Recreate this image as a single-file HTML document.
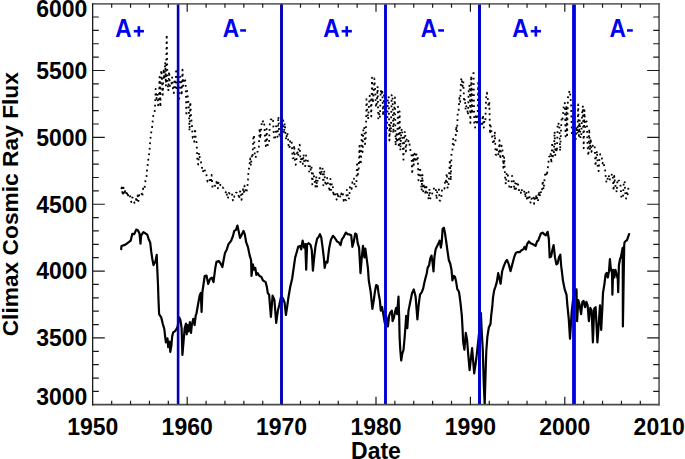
<!DOCTYPE html><html><head><meta charset="utf-8"><style>
html,body{margin:0;padding:0;background:#fff;}
body{width:685px;height:459px;overflow:hidden;position:relative;font-family:"Liberation Sans", sans-serif;}
svg{position:absolute;left:0;top:0;}
</style></head><body>
<svg width="685" height="459" viewBox="0 0 685 459">
<rect x="0" y="0" width="685" height="459" fill="#fff"/>
<path d="M121.1 189.0 L121.9 187.5 L122.7 195.6 L123.5 187.6 L124.2 194.6 L125.0 191.5 L125.8 189.4 L126.6 195.9 L127.4 191.6 L128.2 196.1 L129.0 194.2 L129.8 195.1 L130.5 198.1 L131.3 202.1 L132.1 197.4 L132.9 197.9 L133.7 201.2 L134.5 202.9 L135.3 200.9 L136.0 198.9 L136.8 202.6 L137.6 195.4 L138.4 201.2 L139.2 195.4 L140.0 193.7 L140.8 192.3 L141.6 192.4 L142.3 196.8 L143.1 188.5 L143.9 190.0 L144.7 187.2 L145.5 180.5 L146.3 179.0 L147.1 169.3 L147.8 164.1 L148.6 156.7 L149.4 152.5 L150.2 141.2 L151.0 133.5 L151.8 130.1 L152.6 121.9 L153.4 114.6 L154.1 114.4 L154.9 109.9 L155.7 88.9 L156.5 98.9 L157.3 93.8 L158.1 105.3 L158.9 100.4 L159.6 76.8 L160.4 107.2 L161.2 70.0 L162.0 79.8 L162.8 94.8 L163.6 68.7 L164.4 79.5 L165.2 62.1 L165.9 86.2 L166.7 34.5 L167.5 81.9 L168.3 90.9 L169.1 71.4 L169.9 87.0 L170.7 84.2 L171.4 83.8 L172.2 77.5 L173.0 90.4 L173.8 93.1 L174.6 79.0 L175.4 87.6 L176.2 68.7 L177.0 91.1 L177.7 91.1 L178.5 101.1 L179.3 97.7 L180.1 76.7 L180.9 80.4 L181.7 95.5 L182.5 69.7 L183.2 85.9 L184.0 78.0 L184.8 79.7 L185.6 81.5 L186.4 116.0 L187.2 91.0 L188.0 98.5 L188.8 106.6 L189.5 130.9 L190.3 101.8 L191.1 116.7 L191.9 125.6 L192.7 137.8 L193.5 137.6 L194.3 141.8 L195.0 128.5 L195.8 139.6 L196.6 142.8 L197.4 160.9 L198.2 164.5 L199.0 152.8 L199.8 157.9 L200.6 161.3 L201.3 163.2 L202.1 168.3 L202.9 172.2 L203.7 169.2 L204.5 168.3 L205.3 172.8 L206.1 173.0 L206.8 177.1 L207.6 181.5 L208.4 180.1 L209.2 178.7 L210.0 181.1 L210.8 182.6 L211.6 175.0 L212.4 186.6 L213.1 186.3 L213.9 187.9 L214.7 187.8 L215.5 181.9 L216.3 182.6 L217.1 179.9 L217.9 188.4 L218.6 181.3 L219.4 182.6 L220.2 184.9 L221.0 185.7 L221.8 188.2 L222.6 187.4 L223.4 188.1 L224.2 189.6 L224.9 189.9 L225.7 192.4 L226.5 190.8 L227.3 198.7 L228.1 197.5 L228.9 192.9 L229.7 193.8 L230.4 194.7 L231.2 195.0 L232.0 193.4 L232.8 200.2 L233.6 201.0 L234.4 196.1 L235.2 196.2 L236.0 192.7 L236.7 192.7 L237.5 194.2 L238.3 193.4 L239.1 199.1 L239.9 192.0 L240.7 190.6 L241.5 199.9 L242.2 195.4 L243.0 189.2 L243.8 193.6 L244.6 185.6 L245.4 190.5 L246.2 193.0 L247.0 189.2 L247.8 183.2 L248.5 170.7 L249.3 167.1 L250.1 158.4 L250.9 165.8 L251.7 156.2 L252.5 158.3 L253.3 138.7 L254.0 134.9 L254.8 154.6 L255.6 157.8 L256.4 154.0 L257.2 152.0 L258.0 151.5 L258.8 148.4 L259.6 128.0 L260.3 138.7 L261.1 129.9 L261.9 121.0 L262.7 120.2 L263.5 125.4 L264.3 124.4 L265.1 140.3 L265.8 146.1 L266.6 128.8 L267.4 144.7 L268.2 145.3 L269.0 144.2 L269.8 124.0 L270.6 119.7 L271.4 119.4 L272.1 118.2 L272.9 117.9 L273.7 133.4 L274.5 140.0 L275.3 138.5 L276.1 126.2 L276.9 133.5 L277.6 136.8 L278.4 116.3 L279.2 133.2 L280.0 138.0 L280.8 135.4 L281.6 134.6 L282.4 126.7 L283.2 120.5 L283.9 133.6 L284.7 123.1 L285.5 134.8 L286.3 139.9 L287.1 132.4 L287.9 135.6 L288.7 148.5 L289.4 148.2 L290.2 139.5 L291.0 140.8 L291.8 143.0 L292.6 158.3 L293.4 158.2 L294.2 145.2 L295.0 161.1 L295.7 164.8 L296.5 159.5 L297.3 150.3 L298.1 156.4 L298.9 146.4 L299.7 144.7 L300.5 163.3 L301.2 158.8 L302.0 156.4 L302.8 164.0 L303.6 154.1 L304.4 164.7 L305.2 166.1 L306.0 155.3 L306.8 157.9 L307.5 160.5 L308.3 161.5 L309.1 171.7 L309.9 165.1 L310.7 169.9 L311.5 166.4 L312.3 184.4 L313.0 172.3 L313.8 175.4 L314.6 180.5 L315.4 186.7 L316.2 176.3 L317.0 187.3 L317.8 178.7 L318.6 179.8 L319.3 179.4 L320.1 167.8 L320.9 175.6 L321.7 170.4 L322.5 167.6 L323.3 185.3 L324.1 170.3 L324.8 177.9 L325.6 185.9 L326.4 183.4 L327.2 178.0 L328.0 184.4 L328.8 186.5 L329.6 191.8 L330.4 178.9 L331.1 189.9 L331.9 183.1 L332.7 184.6 L333.5 196.2 L334.3 191.7 L335.1 193.9 L335.9 197.6 L336.6 199.6 L337.4 192.0 L338.2 196.3 L339.0 194.4 L339.8 194.9 L340.6 198.0 L341.4 193.4 L342.2 195.8 L342.9 194.1 L343.7 200.8 L344.5 198.2 L345.3 199.8 L346.1 200.2 L346.9 189.9 L347.7 195.2 L348.4 199.5 L349.2 197.9 L350.0 186.7 L350.8 186.0 L351.6 188.9 L352.4 182.2 L353.2 182.6 L354.0 178.6 L354.7 187.7 L355.5 186.8 L356.3 186.1 L357.1 161.7 L357.9 174.6 L358.7 168.5 L359.5 145.9 L360.2 164.7 L361.0 161.8 L361.8 132.2 L362.6 152.0 L363.4 127.2 L364.2 126.7 L365.0 144.1 L365.8 136.2 L366.5 99.2 L367.3 111.2 L368.1 119.3 L368.9 105.6 L369.7 95.6 L370.5 96.5 L371.3 116.4 L372.0 77.6 L372.8 103.1 L373.6 93.4 L374.4 78.5 L375.2 90.3 L376.0 107.3 L376.8 102.5 L377.6 86.3 L378.3 118.4 L379.1 113.6 L379.9 118.1 L380.7 90.1 L381.5 94.7 L382.3 89.6 L383.1 115.7 L383.8 96.7 L384.6 92.8 L385.4 105.0 L386.2 133.6 L387.0 131.9 L387.8 100.0 L388.6 96.2 L389.4 140.5 L390.1 124.5 L390.9 132.5 L391.7 95.1 L392.5 94.4 L393.3 133.4 L394.1 113.4 L394.9 97.3 L395.6 145.8 L396.4 134.1 L397.2 142.9 L398.0 106.7 L398.8 147.6 L399.6 111.3 L400.4 150.6 L401.2 131.5 L401.9 128.4 L402.7 144.1 L403.5 159.7 L404.3 133.1 L405.1 131.3 L405.9 151.5 L406.7 139.7 L407.4 138.1 L408.2 141.4 L409.0 140.2 L409.8 146.3 L410.6 151.3 L411.4 152.5 L412.2 174.2 L413.0 155.0 L413.7 165.4 L414.5 153.7 L415.3 159.8 L416.1 151.9 L416.9 159.7 L417.7 156.1 L418.5 180.4 L419.2 176.5 L420.0 167.1 L420.8 177.0 L421.6 190.7 L422.4 174.1 L423.2 191.4 L424.0 183.7 L424.8 187.2 L425.5 194.9 L426.3 186.8 L427.1 190.9 L427.9 195.4 L428.7 199.5 L429.5 188.7 L430.3 198.5 L431.0 197.3 L431.8 196.6 L432.6 191.3 L433.4 190.7 L434.2 187.3 L435.0 188.6 L435.8 188.3 L436.6 199.4 L437.3 190.5 L438.1 189.4 L438.9 188.5 L439.7 200.6 L440.5 200.7 L441.3 197.7 L442.1 189.0 L442.8 187.8 L443.6 187.8 L444.4 188.7 L445.2 179.4 L446.0 181.1 L446.8 173.2 L447.6 188.5 L448.4 186.7 L449.1 174.1 L449.9 159.6 L450.7 180.7 L451.5 154.5 L452.3 152.0 L453.1 138.9 L453.9 145.0 L454.6 144.8 L455.4 142.5 L456.2 125.9 L457.0 132.2 L457.8 110.7 L458.6 110.4 L459.4 97.9 L460.2 101.9 L460.9 80.9 L461.7 77.7 L462.5 86.3 L463.3 81.3 L464.1 102.0 L464.9 98.6 L465.7 110.1 L466.4 106.2 L467.2 108.9 L468.0 115.1 L468.8 88.4 L469.6 84.9 L470.4 122.9 L471.2 75.8 L472.0 113.9 L472.7 110.6 L473.5 70.4 L474.3 123.5 L475.1 127.7 L475.9 114.0 L476.7 121.0 L477.5 125.0 L478.2 82.8 L479.0 109.1 L479.8 108.1 L480.6 125.4 L481.4 124.3 L482.2 125.1 L483.0 114.8 L483.8 127.6 L484.5 120.2 L485.3 121.5 L486.1 97.6 L486.9 92.7 L487.7 97.3 L488.5 107.3 L489.3 101.2 L490.0 134.1 L490.8 126.1 L491.6 133.3 L492.4 137.9 L493.2 144.3 L494.0 141.5 L494.8 131.5 L495.6 154.4 L496.3 154.9 L497.1 149.4 L497.9 151.6 L498.7 155.7 L499.5 140.2 L500.3 159.3 L501.1 146.9 L501.8 145.6 L502.6 151.2 L503.4 167.8 L504.2 156.7 L505.0 175.7 L505.8 184.1 L506.6 174.2 L507.4 172.2 L508.1 176.8 L508.9 185.1 L509.7 188.2 L510.5 186.1 L511.3 187.1 L512.1 175.9 L512.9 178.0 L513.6 180.5 L514.4 190.4 L515.2 183.2 L516.0 188.9 L516.8 181.6 L517.6 182.8 L518.4 185.6 L519.2 192.6 L519.9 193.4 L520.7 193.7 L521.5 188.7 L522.3 192.6 L523.1 191.9 L523.9 192.5 L524.7 190.2 L525.4 198.0 L526.2 191.9 L527.0 200.1 L527.8 200.6 L528.6 192.0 L529.4 196.6 L530.2 201.9 L531.0 203.3 L531.7 197.6 L532.5 196.1 L533.3 196.0 L534.1 203.8 L534.9 195.8 L535.7 200.0 L536.5 194.5 L537.2 198.4 L538.0 201.8 L538.8 191.1 L539.6 196.8 L540.4 191.0 L541.2 193.4 L542.0 189.4 L542.8 180.5 L543.5 189.7 L544.3 181.9 L545.1 173.7 L545.9 171.8 L546.7 176.1 L547.5 170.8 L548.3 163.7 L549.0 156.8 L549.8 156.2 L550.6 152.7 L551.4 163.3 L552.2 142.2 L553.0 156.5 L553.8 156.3 L554.6 131.5 L555.3 155.1 L556.1 147.4 L556.9 152.2 L557.7 122.7 L558.5 123.9 L559.3 123.1 L560.1 151.1 L560.8 134.7 L561.6 118.3 L562.4 120.4 L563.2 112.5 L564.0 103.1 L564.8 103.0 L565.6 136.4 L566.4 105.4 L567.1 135.2 L567.9 97.9 L568.7 95.5 L569.5 90.5 L570.3 95.1 L571.1 104.6 L571.9 134.5 L572.6 133.3 L573.4 132.1 L574.2 126.8 L575.0 137.3 L575.8 139.1 L576.6 126.4 L577.4 134.0 L578.2 104.4 L578.9 135.9 L579.7 119.6 L580.5 138.3 L581.3 134.7 L582.1 113.6 L582.9 105.7 L583.7 148.3 L584.4 110.2 L585.2 127.2 L586.0 121.8 L586.8 121.4 L587.6 146.9 L588.4 156.0 L589.2 128.8 L590.0 150.1 L590.7 138.3 L591.5 151.9 L592.3 147.6 L593.1 144.0 L593.9 145.0 L594.7 147.1 L595.5 166.2 L596.2 157.0 L597.0 150.8 L597.8 168.8 L598.6 171.1 L599.4 159.1 L600.2 154.1 L601.0 157.0 L601.8 157.4 L602.5 163.5 L603.3 161.4 L604.1 165.6 L604.9 167.9 L605.7 176.6 L606.5 182.7 L607.3 181.8 L608.0 174.9 L608.8 176.0 L609.6 180.5 L610.4 177.1 L611.2 177.0 L612.0 173.5 L612.8 177.0 L613.6 190.9 L614.3 175.8 L615.1 183.9 L615.9 187.8 L616.7 192.3 L617.5 179.1 L618.3 180.6 L619.1 180.7 L619.8 184.1 L620.6 185.9 L621.4 197.7 L622.2 196.6 L623.0 197.5 L623.8 180.9 L624.6 181.6 L625.4 196.1 L626.1 198.6 L626.9 191.0 L627.7 194.3 L628.5 187.0" fill="none" stroke="#000" stroke-width="1.8" stroke-dasharray="1.8 3.7" stroke-linejoin="round"/>
<path d="M121.2 249.2 L121.5 246.0 L125.5 244.6 L130.7 240.7 L132.3 233.8 L134.3 234.2 L136.2 229.6 L137.9 230.2 L139.5 233.5 L140.5 243.6 L141.1 235.5 L143.4 232.2 L145.3 233.3 L147.3 234.7 L148.8 239.6 L150.2 242.5 L151.2 251.4 L152.2 258.2 L153.5 265.1 L155.5 261.2 L156.7 254.9 L157.1 265.1 L158.0 284.7 L158.5 300.0 L159.1 314.1 L161.2 317.3 L162.7 323.5 L164.3 329.0 L165.1 336.1 L165.9 342.4 L167.5 338.4 L168.2 347.1 L169.5 341.6 L170.3 351.8 L171.4 345.5 L172.2 336.1 L173.3 332.2 L174.8 331.4 L176.1 329.8 L177.6 326.7 L179.2 317.3 L180.5 320.4 L181.6 328.2 L182.4 354.9 L183.6 340.8 L184.7 328.2 L186.0 323.5 L186.7 334.5 L187.5 325.1 L188.6 331.4 L189.9 322.0 L191.0 333.0 L191.8 325.1 L193.3 318.8 L194.6 325.1 L195.7 315.7 L196.5 313.3 L198.0 304.7 L199.6 296.0 L200.8 293.0 L201.6 312.0 L202.4 292.0 L204.7 276.0 L206.5 275.5 L208.2 284.0 L210.0 279.0 L211.8 277.6 L213.5 282.1 L215.3 267.9 L216.5 261.8 L218.8 260.9 L220.6 263.5 L222.4 267.1 L223.6 260.0 L225.0 252.9 L226.8 249.4 L228.5 244.1 L231.2 240.6 L232.9 236.2 L234.2 230.9 L235.9 230.0 L237.4 225.6 L238.6 230.9 L240.0 237.9 L241.8 234.4 L243.5 230.9 L244.8 234.4 L246.2 242.4 L247.9 246.8 L249.7 255.6 L251.1 260.0 L251.5 275.9 L252.9 264.4 L254.1 269.7 L255.3 267.9 L256.4 275.0 L257.6 273.2 L259.4 275.9 L261.2 276.8 L262.9 280.3 L265.6 282.1 L267.0 287.6 L267.7 292.9 L269.1 294.7 L270.9 316.8 L272.6 295.6 L274.4 300.0 L276.2 322.9 L277.9 310.6 L279.4 304.4 L281.1 296.5 L282.9 298.2 L284.6 302.6 L285.9 315.0 L287.1 307.1 L288.5 297.0 L290.3 286.5 L292.1 279.0 L293.8 267.0 L295.2 257.4 L297.0 251.2 L298.2 246.8 L300.0 245.9 L301.2 249.4 L302.6 240.6 L304.1 247.6 L305.3 244.1 L306.2 269.7 L307.1 244.1 L308.8 243.2 L310.6 245.0 L311.8 250.3 L312.9 270.6 L314.1 258.2 L315.4 246.8 L317.1 238.8 L318.5 237.1 L319.9 234.1 L321.2 237.1 L322.4 245.9 L323.8 257.4 L324.7 267.9 L325.9 261.8 L327.4 262.6 L329.1 248.5 L330.9 239.7 L333.0 235.8 L334.8 237.9 L337.1 241.5 L338.8 242.4 L340.6 245.0 L341.8 239.7 L343.6 237.1 L345.9 232.6 L347.6 234.1 L349.4 234.4 L351.2 235.3 L352.4 246.8 L353.8 241.5 L355.2 233.5 L356.5 234.4 L357.7 243.2 L359.1 247.6 L360.5 273.2 L361.8 257.4 L363.0 245.9 L364.4 257.4 L365.3 248.5 L366.5 257.4 L367.9 267.9 L368.8 280.6 L370.6 291.2 L371.5 300.0 L372.4 308.8 L373.8 300.0 L375.0 291.2 L376.2 285.0 L377.6 285.9 L378.5 292.9 L379.8 300.0 L380.8 310.6 L382.1 307.1 L383.3 314.1 L384.7 322.9 L386.1 315.9 L387.9 326.5 L389.1 315.9 L390.4 312.4 L391.8 310.6 L392.6 321.2 L393.9 317.6 L394.9 312.4 L396.2 307.9 L397.1 314.1 L398.5 296.5 L399.2 317.6 L399.6 337.0 L400.3 350.0 L401.2 360.5 L402.2 354.0 L403.5 350.0 L404.6 338.0 L405.5 326.0 L406.2 315.9 L407.3 328.2 L408.5 310.6 L410.3 301.8 L412.1 292.9 L413.8 289.4 L415.6 296.5 L417.4 319.4 L418.6 305.3 L420.0 294.7 L421.8 292.1 L423.2 288.4 L424.4 282.4 L425.5 278.0 L426.8 273.2 L427.6 267.9 L429.1 265.3 L430.3 258.2 L431.5 255.6 L432.6 262.6 L433.5 271.5 L434.4 257.4 L435.6 249.4 L436.8 246.8 L438.2 244.1 L439.6 240.6 L440.9 247.6 L441.8 241.5 L442.6 229.1 L443.9 227.7 L444.9 232.6 L446.2 241.5 L447.4 250.3 L448.8 260.0 L450.2 263.5 L451.5 269.7 L452.4 280.3 L453.8 275.9 L455.0 276.8 L456.2 282.1 L457.3 289.1 L458.5 290.9 L459.1 292.4 L460.5 302.9 L461.8 315.3 L462.6 329.4 L463.1 341.5 L464.4 349.7 L465.8 332.9 L467.1 340.0 L467.9 350.6 L469.6 370.1 L472.1 348.1 L474.2 373.4 L476.2 359.5 L477.8 345.0 L479.4 330.0 L480.9 313.0 L481.8 333.0 L482.8 350.0 L483.8 385.0 L484.7 404.0 L485.6 372.0 L486.3 351.0 L487.4 336.5 L488.8 327.6 L490.5 324.1 L491.2 315.3 L492.3 306.5 L493.0 297.6 L494.1 290.6 L495.3 287.1 L496.8 282.1 L498.2 273.2 L499.4 278.5 L500.6 283.8 L502.1 271.5 L503.8 266.2 L505.6 261.8 L507.0 260.0 L508.8 264.4 L510.5 271.1 L512.3 264.4 L514.1 257.4 L515.8 252.9 L517.6 252.1 L519.7 252.1 L521.5 250.3 L523.2 249.4 L524.6 246.8 L525.9 249.4 L527.1 244.1 L528.9 241.5 L530.6 243.2 L532.4 244.1 L534.2 245.0 L535.6 245.9 L537.0 241.5 L538.2 240.6 L539.5 237.1 L540.9 233.5 L542.6 232.6 L544.4 234.4 L545.8 235.3 L547.6 231.8 L548.8 238.8 L549.7 257.4 L551.1 256.5 L552.3 250.3 L553.6 245.0 L555.0 257.4 L556.4 264.4 L557.6 263.5 L558.9 257.4 L560.3 254.7 L561.2 266.2 L562.1 273.2 L562.9 280.3 L564.7 289.4 L566.5 294.7 L567.4 305.3 L568.8 319.4 L570.0 338.8 L571.8 310.6 L573.0 300.0 L574.5 295.0 L576.5 289.4 L577.1 321.2 L578.3 300.0 L579.7 305.3 L581.1 314.1 L582.4 301.8 L583.6 300.9 L585.0 307.1 L586.4 301.8 L587.6 305.3 L588.9 321.2 L590.3 307.9 L591.7 310.6 L592.9 342.4 L594.2 308.8 L595.6 307.1 L597.4 342.4 L598.8 322.9 L600.0 305.3 L601.2 330.0 L602.3 308.8 L603.0 292.9 L604.4 284.1 L605.6 274.5 L606.7 273.0 L607.8 277.5 L609.0 271.4 L609.9 259.2 L610.8 268.4 L612.0 273.0 L612.4 294.7 L613.2 269.9 L614.3 277.5 L615.4 269.9 L616.6 274.5 L617.8 279.1 L618.2 292.1 L618.9 265.3 L620.0 259.2 L620.9 257.0 L621.9 251.6 L622.7 247.8 L622.9 326.5 L624.2 245.5 L624.5 242.5 L625.8 240.9 L627.0 240.2 L628.0 237.1 L629.1 234.1" fill="none" stroke="#000" stroke-width="2.2" stroke-linejoin="round" stroke-linecap="round"/>
<line x1="178.10" y1="3.65" x2="178.10" y2="404.80" stroke="#0000b4" stroke-width="2.6"/>
<line x1="281.50" y1="3.65" x2="281.50" y2="404.80" stroke="#0000bc" stroke-width="2.9"/>
<line x1="385.50" y1="3.65" x2="385.50" y2="404.80" stroke="#0000d8" stroke-width="2.9"/>
<line x1="479.50" y1="3.65" x2="479.50" y2="404.80" stroke="#0000d0" stroke-width="3.0"/>
<line x1="574.00" y1="3.65" x2="574.00" y2="404.80" stroke="#0000e4" stroke-width="3.8"/>
<line x1="92.20" y1="3.95" x2="659.80" y2="3.95" stroke="#6a6a6a" stroke-width="1.8"/>
<line x1="92.20" y1="404.65" x2="659.80" y2="404.65" stroke="#4a4a4a" stroke-width="1.7"/>
<line x1="92.65" y1="3.2" x2="92.65" y2="405.4" stroke="#1a1a1a" stroke-width="1.3"/>
<line x1="659.05" y1="3.2" x2="659.05" y2="405.4" stroke="#555" stroke-width="1.6"/>
<path d="M92.80 391.43h6.00M659.20 391.43h-6.00M92.80 378.06h6.00M659.20 378.06h-6.00M92.80 364.69h6.00M659.20 364.69h-6.00M92.80 351.31h6.00M659.20 351.31h-6.00M92.80 337.94h12.00M659.20 337.94h-12.00M92.80 324.57h6.00M659.20 324.57h-6.00M92.80 311.20h6.00M659.20 311.20h-6.00M92.80 297.83h6.00M659.20 297.83h-6.00M92.80 284.45h6.00M659.20 284.45h-6.00M92.80 271.08h12.00M659.20 271.08h-12.00M92.80 257.71h6.00M659.20 257.71h-6.00M92.80 244.34h6.00M659.20 244.34h-6.00M92.80 230.97h6.00M659.20 230.97h-6.00M92.80 217.60h6.00M659.20 217.60h-6.00M92.80 204.23h12.00M659.20 204.23h-12.00M92.80 190.85h6.00M659.20 190.85h-6.00M92.80 177.48h6.00M659.20 177.48h-6.00M92.80 164.11h6.00M659.20 164.11h-6.00M92.80 150.74h6.00M659.20 150.74h-6.00M92.80 137.37h12.00M659.20 137.37h-12.00M92.80 123.99h6.00M659.20 123.99h-6.00M92.80 110.62h6.00M659.20 110.62h-6.00M92.80 97.25h6.00M659.20 97.25h-6.00M92.80 83.88h6.00M659.20 83.88h-6.00M92.80 70.51h12.00M659.20 70.51h-12.00M92.80 57.14h6.00M659.20 57.14h-6.00M92.80 43.76h6.00M659.20 43.76h-6.00M92.80 30.39h6.00M659.20 30.39h-6.00M92.80 17.02h6.00M659.20 17.02h-6.00M111.68 404.80v-4.00M111.68 3.65v4.00M130.56 404.80v-4.00M130.56 3.65v4.00M149.44 404.80v-4.00M149.44 3.65v4.00M168.32 404.80v-4.00M168.32 3.65v4.00M187.20 404.80v-8.00M187.20 3.65v8.00M206.08 404.80v-4.00M206.08 3.65v4.00M224.96 404.80v-4.00M224.96 3.65v4.00M243.84 404.80v-4.00M243.84 3.65v4.00M262.72 404.80v-4.00M262.72 3.65v4.00M281.60 404.80v-8.00M281.60 3.65v8.00M300.48 404.80v-4.00M300.48 3.65v4.00M319.36 404.80v-4.00M319.36 3.65v4.00M338.24 404.80v-4.00M338.24 3.65v4.00M357.12 404.80v-4.00M357.12 3.65v4.00M376.00 404.80v-8.00M376.00 3.65v8.00M394.88 404.80v-4.00M394.88 3.65v4.00M413.76 404.80v-4.00M413.76 3.65v4.00M432.64 404.80v-4.00M432.64 3.65v4.00M451.52 404.80v-4.00M451.52 3.65v4.00M470.40 404.80v-8.00M470.40 3.65v8.00M489.28 404.80v-4.00M489.28 3.65v4.00M508.16 404.80v-4.00M508.16 3.65v4.00M527.04 404.80v-4.00M527.04 3.65v4.00M545.92 404.80v-4.00M545.92 3.65v4.00M564.80 404.80v-8.00M564.80 3.65v8.00M583.68 404.80v-4.00M583.68 3.65v4.00M602.56 404.80v-4.00M602.56 3.65v4.00M621.44 404.80v-4.00M621.44 3.65v4.00M640.32 404.80v-4.00M640.32 3.65v4.00" fill="none" stroke="#1a1a1a" stroke-width="1.2"/>
<text x="87.3" y="405.00" text-anchor="end" font-family='"Liberation Sans", sans-serif' font-weight="bold" font-size="23">3000</text>
<text x="87.3" y="346.24" text-anchor="end" font-family='"Liberation Sans", sans-serif' font-weight="bold" font-size="23">3500</text>
<text x="87.3" y="279.38" text-anchor="end" font-family='"Liberation Sans", sans-serif' font-weight="bold" font-size="23">4000</text>
<text x="87.3" y="212.53" text-anchor="end" font-family='"Liberation Sans", sans-serif' font-weight="bold" font-size="23">4500</text>
<text x="87.3" y="145.67" text-anchor="end" font-family='"Liberation Sans", sans-serif' font-weight="bold" font-size="23">5000</text>
<text x="87.3" y="78.81" text-anchor="end" font-family='"Liberation Sans", sans-serif' font-weight="bold" font-size="23">5500</text>
<text x="87.3" y="16.60" text-anchor="end" font-family='"Liberation Sans", sans-serif' font-weight="bold" font-size="23">6000</text>
<text x="92.80" y="434.7" text-anchor="middle" font-family='"Liberation Sans", sans-serif' font-weight="bold" font-size="23">1950</text>
<text x="187.20" y="434.7" text-anchor="middle" font-family='"Liberation Sans", sans-serif' font-weight="bold" font-size="23">1960</text>
<text x="281.60" y="434.7" text-anchor="middle" font-family='"Liberation Sans", sans-serif' font-weight="bold" font-size="23">1970</text>
<text x="376.00" y="434.7" text-anchor="middle" font-family='"Liberation Sans", sans-serif' font-weight="bold" font-size="23">1980</text>
<text x="470.40" y="434.7" text-anchor="middle" font-family='"Liberation Sans", sans-serif' font-weight="bold" font-size="23">1990</text>
<text x="564.80" y="434.7" text-anchor="middle" font-family='"Liberation Sans", sans-serif' font-weight="bold" font-size="23">2000</text>
<text x="659.20" y="434.7" text-anchor="middle" font-family='"Liberation Sans", sans-serif' font-weight="bold" font-size="23">2010</text>
<text x="376.00" y="459" text-anchor="middle" font-family='"Liberation Sans", sans-serif' font-weight="bold" font-size="23">Date</text>
<text transform="translate(18.3 204.22) rotate(-90)" text-anchor="middle" font-family='"Liberation Sans", sans-serif' font-weight="bold" font-size="22.75">Climax Cosmic Ray Flux</text>
<text transform="translate(115.30 37.1) scale(0.910 1)" x="0" y="0" font-family='"Liberation Sans", sans-serif' font-weight="bold" font-size="25" fill="#0000f0">A</text>
<rect x="133.75" y="29.9" width="10.2" height="2.6" fill="#0000f0"/>
<rect x="137.55" y="26.2" width="2.6" height="10.4" fill="#0000f0"/>
<text transform="translate(222.80 37.1) scale(0.910 1)" x="0" y="0" font-family='"Liberation Sans", sans-serif' font-weight="bold" font-size="25" fill="#0000f0">A</text>
<rect x="240.20" y="29.2" width="5.8" height="2.5" fill="#0000f0"/>
<text transform="translate(323.20 37.1) scale(0.910 1)" x="0" y="0" font-family='"Liberation Sans", sans-serif' font-weight="bold" font-size="25" fill="#0000f0">A</text>
<rect x="341.65" y="29.9" width="10.2" height="2.6" fill="#0000f0"/>
<rect x="345.45" y="26.2" width="2.6" height="10.4" fill="#0000f0"/>
<text transform="translate(420.80 37.1) scale(0.910 1)" x="0" y="0" font-family='"Liberation Sans", sans-serif' font-weight="bold" font-size="25" fill="#0000f0">A</text>
<rect x="438.20" y="29.2" width="5.8" height="2.5" fill="#0000f0"/>
<text transform="translate(512.30 37.1) scale(0.910 1)" x="0" y="0" font-family='"Liberation Sans", sans-serif' font-weight="bold" font-size="25" fill="#0000f0">A</text>
<rect x="530.75" y="29.9" width="10.2" height="2.6" fill="#0000f0"/>
<rect x="534.55" y="26.2" width="2.6" height="10.4" fill="#0000f0"/>
<text transform="translate(609.60 37.1) scale(0.910 1)" x="0" y="0" font-family='"Liberation Sans", sans-serif' font-weight="bold" font-size="25" fill="#0000f0">A</text>
<rect x="627.00" y="29.2" width="5.8" height="2.5" fill="#0000f0"/>
</svg></body></html>
